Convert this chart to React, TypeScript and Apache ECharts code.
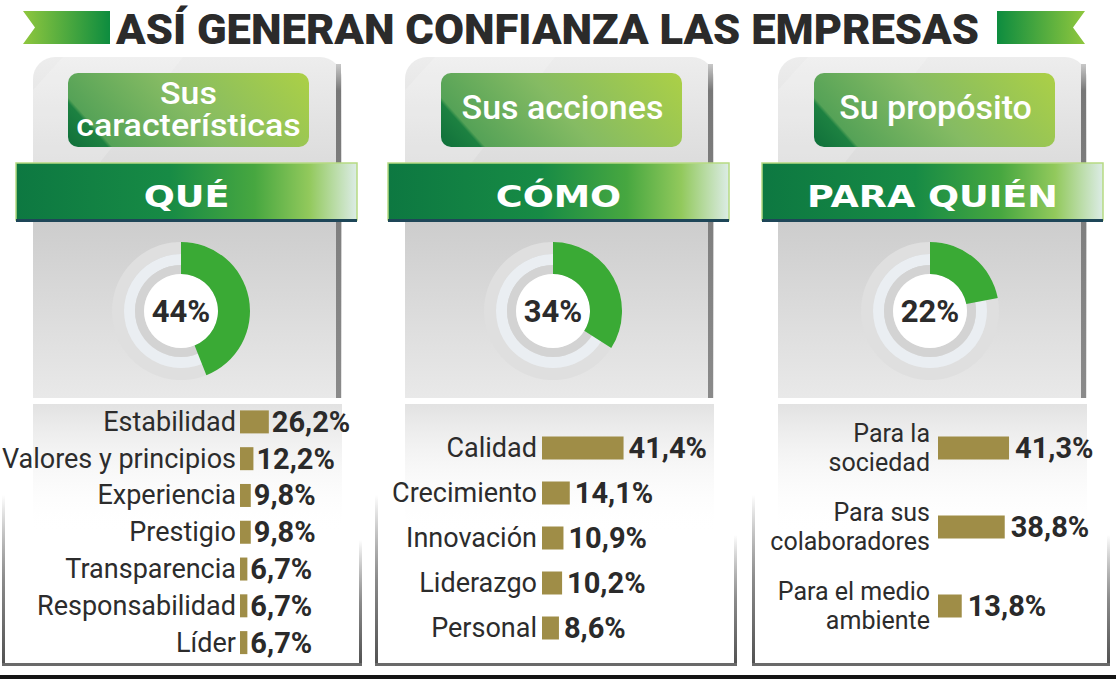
import React, { useEffect, useRef } from 'react';
import * as echarts from 'echarts';

const title = 'ASÍ GENERAN CONFIANZA LAS EMPRESAS';
const subtitles = ['Sus\ncaracterísticas', 'Sus acciones', 'Su propósito'];
const headers = ['QUÉ', 'CÓMO', 'PARA QUIÉN'];
const donutValues = [44, 34, 22];

const queCategories = ['Estabilidad', 'Valores y principios', 'Experiencia', 'Prestigio', 'Transparencia', 'Responsabilidad', 'Líder'];
const queValues = [26.2, 12.2, 9.8, 9.8, 6.7, 6.7, 6.7];
const comoCategories = ['Calidad', 'Crecimiento', 'Innovación', 'Liderazgo', 'Personal'];
const comoValues = [41.4, 14.1, 10.9, 10.2, 8.6];
const quienCategories = ['Para la\nsociedad', 'Para sus\ncolaboradores', 'Para el medio\nambiente'];
const quienValues = [41.3, 38.8, 13.8];

// layout
const cardX = [33, 405, 778];
const cardW = 309;
const bannerX = [16, 388, 762];
const bannerW = 341;
const subX = [68, 441, 814];
const subW = 241;
const donutCX = [181, 553, 930];
const donutCY = 311;
const boxL = [2, 375, 752];
const boxR = [362, 737, 1110];
const boxLineTop = [495, 495, 495];
const boxRLineTop = [540, 535, 535];

const BAR = '#9f8d47';
const TXT = '#2c2c2c';
const GREEN = '#3aaa35';

const lg = (x0: number, y0: number, x1: number, y1: number, stops: [number, string][], global = false) =>
  new echarts.graphic.LinearGradient(x0, y0, x1, y1, stops.map(([o, c]) => ({ offset: o, color: c })), global);

const fmt = (v: number) => v.toFixed(1).replace('.', ',') + '%';

function buildGraphic() {
  const els: any[] = [];
  // ribbons
  els.push({
    type: 'polygon', z: 1,
    shape: { points: [[23, 11], [110, 11], [110, 44], [23, 44], [35, 27.5]] },
    style: { fill: lg(0, 0, 1, 0, [[0, '#8fc73e'], [1, '#0d8c3f']]) },
  });
  els.push({
    type: 'polygon', z: 1,
    shape: { points: [[997, 11], [1085, 11], [1073, 27.5], [1085, 44], [997, 44]] },
    style: { fill: lg(0, 0, 1, 0, [[0, '#0d8c3f'], [1, '#8fc73e']]) },
  });
  els.push({
    type: 'text', z: 10, x: 547.5, y: 29, scaleX: 1.037,
    style: { text: title, fill: '#2b2b2b', fontSize: 42, fontWeight: 900, fontFamily: 'Roboto', textAlign: 'center', textVerticalAlign: 'middle' },
  });

  for (let i = 0; i < 3; i++) {
    const cx = cardX[i];
    // card top
    els.push({ type: 'rect', z: 0, shape: { x: cx, y: 57, width: cardW, height: 166, r: [22, 22, 0, 0] },
      style: { fill: lg(0, 0, 0, 1, [[0, '#ededed'], [1, '#d3d3d3']]) } });
    // sheen
    els.push({ type: 'polygon', z: 0, shape: { points: [[cx + 30, 57], [cx + 150, 57], [cx + 20, 222], [cx, 222], [cx, 90]] },
      style: { fill: 'rgba(255,255,255,0.18)' } });
    // donut background
    els.push({ type: 'rect', z: 0, shape: { x: cx, y: 222, width: cardW, height: 176 },
      style: { fill: lg(0, 0, 0, 1, [[0, '#cdcdcd'], [1, '#e9e9e9']]) } });
    // right dark strip
    els.push({ type: 'rect', z: 0, shape: { x: cx + 303, y: 64, width: 5, height: 334 },
      style: { fill: lg(0, 0, 0, 1, [[0, '#c8c8c8'], [0.08, '#777777'], [1, '#8a8a8a']]) } });
    // lower fade
    els.push({ type: 'rect', z: 0, shape: { x: cx, y: 404, width: cardW, height: 130 },
      style: { fill: lg(0, 0, 0, 1, [[0, '#e2e2e2'], [1, 'rgba(255,255,255,0)']]) } });
    // lower box lines
    els.push({ type: 'rect', z: 0, shape: { x: boxL[i], y: boxLineTop[i], width: 3, height: 666 - boxLineTop[i] },
      style: { fill: lg(0, 0, 0, 1, [[0, 'rgba(110,110,110,0)'], [0.5, '#8a8a8a'], [1, '#505050']]) } });
    els.push({ type: 'rect', z: 0, shape: { x: boxR[i] - 3, y: boxRLineTop[i], width: 3, height: 666 - boxRLineTop[i] },
      style: { fill: lg(0, 0, 0, 1, [[0, 'rgba(110,110,110,0)'], [0.5, '#8a8a8a'], [1, '#505050']]) } });
    els.push({ type: 'rect', z: 0, shape: { x: boxL[i], y: 663, width: boxR[i] - boxL[i], height: 3 },
      style: { fill: '#6a6a6a' } });

    // subtitle box
    const sx = subX[i];
    els.push({ type: 'rect', z: 1, shape: { x: sx, y: 73, width: subW, height: 74, r: 10 },
      style: { fill: lg(sx, 147, sx + 171, -6, [[0, '#0f6f3a'], [0.13, '#1d8141'], [0.145, '#55a257'], [0.5, '#85bb63'], [1, '#acd046']], true) } });
    if (i === 0) {
      els.push({ type: 'text', z: 10, x: sx + subW / 2, y: 93, scaleX: 1.06,
        style: { text: 'Sus', fill: '#ffffff', fontSize: 32, fontWeight: 500, fontFamily: 'Roboto', textAlign: 'center', textVerticalAlign: 'middle' } });
      els.push({ type: 'text', z: 10, x: sx + subW / 2, y: 125, scaleX: 1.06,
        style: { text: 'características', fill: '#ffffff', fontSize: 32, fontWeight: 500, fontFamily: 'Roboto', textAlign: 'center', textVerticalAlign: 'middle' } });
    } else {
      els.push({ type: 'text', z: 10, x: sx + subW / 2 + 1, y: 107,
        style: { text: subtitles[i], fill: '#ffffff', fontSize: 34, fontWeight: 500, fontFamily: 'Roboto', textAlign: 'center', textVerticalAlign: 'middle' } });
    }

    // banner
    const bx = bannerX[i];
    els.push({ type: 'rect', z: 2, shape: { x: bx, y: 163, width: bannerW, height: 57 },
      style: { fill: lg(0, 0, 1, 0, [[0, '#0d7841'], [0.45, '#178b45'], [0.7, '#47a740'], [0.86, '#92c95c'], [1, '#dcece6']]),
        stroke: '#b7da82', lineWidth: 1.5 } });
    els.push({ type: 'rect', z: 2, shape: { x: bx, y: 219, width: bannerW, height: 3 }, style: { fill: '#1e4658' } });
    els.push({ type: 'text', z: 10, x: bx + bannerW / 2, y: 196, scaleX: 1.18,
      style: { text: headers[i], fill: '#ffffff', fontSize: 31, fontWeight: 'bold', fontFamily: 'DejaVu Sans', textAlign: 'center', textVerticalAlign: 'middle' } });

    // donut background rings
    const dx = donutCX[i];
    els.push({ type: 'ring', z: 1, shape: { cx: dx, cy: donutCY, r: 69, r0: 57 }, style: { fill: '#dfdfdf' } });
    els.push({ type: 'ring', z: 1, shape: { cx: dx, cy: donutCY, r: 57, r0: 46 }, style: { fill: '#eaeef2' } });
    els.push({ type: 'ring', z: 1, shape: { cx: dx, cy: donutCY, r: 46, r0: 37 }, style: { fill: '#d3d3d3' } });
    els.push({ type: 'circle', z: 1, shape: { cx: dx, cy: donutCY, r: 37 }, style: { fill: '#ffffff' } });
  }
  // bottom black rule
  els.push({ type: 'rect', z: 0, shape: { x: 0, y: 675, width: 1116, height: 4 }, style: { fill: '#151515' } });
  return els;
}

function buildOption(): any {
  const grids = [
    { left: 240, top: 403.5, width: 110, height: 257.5 },
    { left: 542, top: 425.5, width: 197, height: 225 },
    { left: 938, top: 408.5, width: 172, height: 237 },
  ];
  const cats = [queCategories, comoCategories, quienCategories];
  const vals = [queValues, comoValues, quienValues];
  const margins = [4, 5, 8];
  const distances = [3, 5, 6];
  const labelSizes = [27, 27, 25];
  const lineHeights = [27, 27, 29];

  const pies = donutValues.map((v, i) => ({
    type: 'pie', z: 5, silent: true, animation: false,
    center: [donutCX[i], donutCY], radius: [37, 69], startAngle: 90, clockwise: true,
    label: { show: false }, labelLine: { show: false }, emphasis: { disabled: true },
    data: [
      { value: v, name: headers[i], itemStyle: { color: GREEN },
        label: { show: true, position: 'center', formatter: '{c}%', fontSize: 31, fontWeight: 'bold', color: '#2b2b2b', fontFamily: 'Roboto' } },
      { value: 100 - v, name: 'resto', itemStyle: { color: 'rgba(0,0,0,0)' }, label: { show: false } },
    ],
  }));

  const bars = vals.map((d, i) => ({
    type: 'bar', xAxisIndex: i, yAxisIndex: i, data: d, barWidth: 23, silent: true, z: 4,
    itemStyle: { color: BAR },
    label: { show: true, position: 'right', distance: distances[i], formatter: (p: any) => fmt(p.value),
      fontSize: 29, fontWeight: 'bold', color: '#2a2a2a', fontFamily: 'Roboto' },
  }));

  return {
    animation: false,
    backgroundColor: '#ffffff',
    grid: grids.map(g => ({ ...g, containLabel: false, outerBoundsMode: 'none' })),
    xAxis: grids.map((_, i) => ({ type: 'value', gridIndex: i, min: 0, max: 100, show: false })),
    yAxis: grids.map((_, i) => ({
      type: 'category', gridIndex: i, data: cats[i], inverse: true,
      axisLine: { show: false }, axisTick: { show: false }, splitLine: { show: false },
      axisLabel: { interval: 0, margin: margins[i], fontSize: labelSizes[i], color: TXT, fontFamily: 'Roboto', lineHeight: lineHeights[i], align: 'right' },
    })),
    graphic: buildGraphic(),
    series: [...pies, ...bars],
  };
}

export default function App() {
  const ref = useRef<HTMLDivElement>(null);
  useEffect(() => {
    const chart = echarts.init(ref.current!, null, { renderer: 'svg' });
    chart.setOption(buildOption());
    return () => chart.dispose();
  }, []);
  return <div ref={ref} style={{ position: 'absolute', left: 0, top: 0, width: 1116, height: 679, background: '#fff' }} />;
}
